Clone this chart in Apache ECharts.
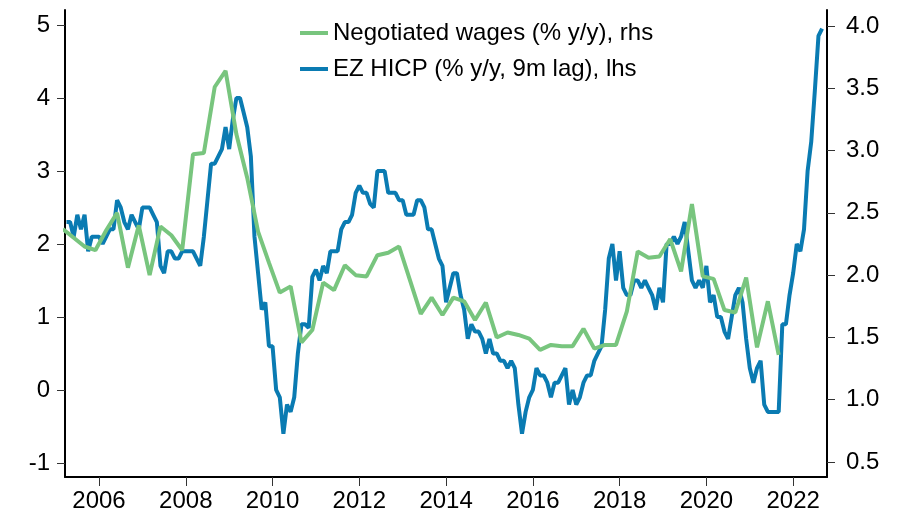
<!DOCTYPE html>
<html>
<head>
<meta charset="utf-8">
<script src="https://cdn.jsdelivr.net/npm/echarts@6/dist/echarts.min.js"></script>
<style>
  html, body { margin: 0; padding: 0; background: #fff; }
  #chart { width: 907px; height: 521px; }
</style>
</head>
<body>
<div id="chart"></div>
<script>
// EZ HICP % y/y, shifted 9 months: first point plotted Apr 2005, monthly
const hicpStart = 2005 + 3 / 12;
const hicpLag = [
  2.3, 2.3, 2.1, 2.4, 2.2, 2.4,
  1.9, 2.1, 2.1, 2.1, 2.0, 2.1, 2.2, 2.2, 2.6, 2.5, 2.3, 2.2,
  2.4, 2.3, 2.2, 2.5, 2.5, 2.5, 2.4, 2.3, 1.7, 1.6, 1.9, 1.9,
  1.8, 1.8, 1.9, 1.9, 1.9, 1.9, 1.8, 1.7, 2.1, 2.6, 3.1, 3.1,
  3.2, 3.3, 3.6, 3.3, 3.7, 4.0, 4.0, 3.8, 3.6, 3.2, 2.1, 1.6,
  1.1, 1.2, 0.6, 0.6, 0.0, -0.1, -0.6, -0.2, -0.3, -0.1, 0.5, 0.9,
  0.9, 0.85, 1.55, 1.65, 1.5, 1.7, 1.6, 1.9, 1.9, 1.9, 2.2, 2.3,
  2.3, 2.4, 2.7, 2.8, 2.7, 2.7, 2.55, 2.5, 3.0, 3.0, 3.0, 2.7,
  2.7, 2.7, 2.6, 2.6, 2.4, 2.4, 2.4, 2.6, 2.6, 2.5, 2.2, 2.2,
  2.0, 1.8, 1.7, 1.2, 1.4, 1.6, 1.6, 1.3, 1.1, 0.7, 0.9, 0.8,
  0.8, 0.7, 0.5, 0.7, 0.5, 0.5, 0.4, 0.4, 0.3, 0.4, 0.3, -0.2,
  -0.6, -0.3, -0.1, 0.0, 0.3, 0.2, 0.2, 0.1, -0.1, 0.1, 0.1, 0.2,
  0.3, -0.2, 0.0, -0.2, -0.1, 0.1, 0.2, 0.2, 0.4, 0.5, 0.6, 1.1,
  1.8, 2.0, 1.5, 1.9, 1.4, 1.3, 1.3, 1.5, 1.5, 1.4, 1.5, 1.4,
  1.3, 1.1, 1.4, 1.2, 2.0, 2.0, 2.1, 2.0, 2.1, 2.3, 1.9, 1.5,
  1.4, 1.5, 1.4, 1.7, 1.2, 1.3, 1.0, 1.0, 0.8, 0.7, 1.0, 1.3,
  1.4, 1.2, 0.7, 0.3, 0.1, 0.3, 0.4, -0.2, -0.3, -0.3, -0.3, -0.3,
  0.9, 0.9, 1.3, 1.6, 2.0, 1.9, 2.2, 3.0, 3.4, 4.1, 4.85, 4.95
];

// negotiated wages % y/y, quarterly, plotted at Mar/Jun/Sep/Dec from Mar 2005
const wagesStart = 2005 + 2 / 12;
const wages = [
  2.37, 2.30, 2.23, 2.20,
  2.36, 2.50, 2.06, 2.40,
  2.00, 2.39, 2.32, 2.20,
  2.97, 2.98, 3.51, 3.64,
  3.13, 2.78, 2.35, 2.10,
  1.86, 1.91, 1.46, 1.56,
  1.94, 1.88, 2.08, 2.00,
  1.99, 2.16, 2.18, 2.23,
  1.96, 1.69, 1.82, 1.68,
  1.82, 1.79, 1.64, 1.78,
  1.50, 1.54, 1.52, 1.49,
  1.40, 1.44, 1.43, 1.43,
  1.57, 1.41, 1.44, 1.44,
  1.71, 2.19, 2.14, 2.15,
  2.29, 2.03, 2.57, 1.99,
  1.97, 1.72, 1.70, 1.98,
  1.42, 1.79, 1.36
];

const yearTicks = [2006, 2008, 2010, 2012, 2014, 2016, 2018, 2020, 2022];
const lhsTicks = [-1, 0, 1, 2, 3, 4, 5];
const rhsTicks = [0.5, 1.0, 1.5, 2.0, 2.5, 3.0, 3.5, 4.0];

const hicpData = hicpLag.map((v, i) => [hicpStart + i / 12, v]);
const wagesData = wages.map((v, i) => [wagesStart + i * 3 / 12, v]);

const font = 'Liberation Sans, Arial, sans-serif';
const lineAxis = { show: true, onZero: false, lineStyle: { color: '#000', width: 2 } };
const tickStyle = { color: '#333', width: 1 };

const chart = echarts.init(document.getElementById('chart'));
chart.setOption({
  animation: false,
  textStyle: { fontFamily: font },
  grid: { left: 65, right: 80, top: 10, bottom: 44 },
  legend: {
    orient: 'vertical',
    left: 295,
    top: 16,
    itemWidth: 28,
    itemHeight: 4,
    itemGap: 12,
    icon: 'rect',
    data: ['Negotiated wages (% y/y), rhs', 'EZ HICP (% y/y, 9m lag), lhs'],
    textStyle: { fontSize: 24, color: '#000', fontFamily: font }
  },
  xAxis: {
    type: 'value',
    min: 2005.216,
    max: 2022.78,
    axisLine: lineAxis,
    splitLine: { show: false },
    axisTick: { show: true, length: 9, lineStyle: tickStyle, customValues: yearTicks },
    axisLabel: {
      fontSize: 24, color: '#000', margin: 12, fontFamily: font,
      customValues: yearTicks,
      formatter: v => String(Math.round(v))
    }
  },
  yAxis: [
    {
      type: 'value',
      position: 'left',
      min: -1.192,
      max: 5.205,
      axisLine: lineAxis,
      splitLine: { show: false },
      axisTick: { show: true, length: 8, lineStyle: tickStyle, customValues: lhsTicks },
      axisLabel: {
        fontSize: 24, color: '#000', margin: 15, fontFamily: font,
        customValues: lhsTicks,
        formatter: v => String(Math.round(v))
      }
    },
    {
      type: 'value',
      position: 'right',
      min: 0.38,
      max: 4.128,
      axisLine: lineAxis,
      splitLine: { show: false },
      axisTick: { show: true, length: 8, lineStyle: tickStyle, customValues: rhsTicks },
      axisLabel: {
        fontSize: 24, color: '#000', margin: 19, fontFamily: font,
        customValues: rhsTicks,
        formatter: v => v.toFixed(1)
      }
    }
  ],
  series: [
    {
      name: 'EZ HICP (% y/y, 9m lag), lhs',
      type: 'line',
      yAxisIndex: 0,
      data: hicpData,
      symbol: 'none',
      color: '#0a7bb2',
      lineStyle: { width: 4, color: '#0a7bb2' }
    },
    {
      name: 'Negotiated wages (% y/y), rhs',
      type: 'line',
      yAxisIndex: 1,
      data: wagesData,
      symbol: 'none',
      color: '#78c57e',
      lineStyle: { width: 4, color: '#78c57e' }
    }
  ]
});
</script>
</body>
</html>
